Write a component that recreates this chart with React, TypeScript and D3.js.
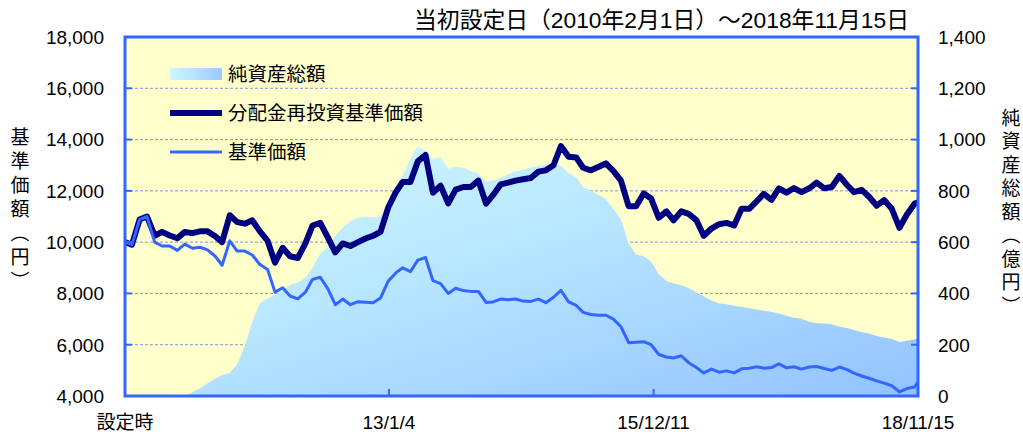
import React from 'react';
import * as d3 from 'd3';

// monthly points, Feb 2010 .. Nov 2018, plus the last date 2018-11-15
const startDate = new Date(2010, 1, 1);
const endDate = new Date(2018, 10, 15);
const dates = [...d3.timeMonth.range(startDate, new Date(2018, 11, 1)), endDate];

// 分配金再投資基準価額 (円)
const reinvested = [
  10000, 9900, 10880, 11000, 10250, 10400, 10260, 10150, 10400, 10350,
  10420, 10420, 10230, 10000, 11050, 10780, 10720, 10850, 10420, 10050,
  9200, 9780, 9450, 9380, 9950, 10650, 10750, 10200, 9600, 9950,
  9850, 10000, 10140, 10250, 10400, 11350, 11950, 12350, 12350, 13150,
  13400, 11930, 12200, 11510, 12050, 12150, 12150, 12400, 11500, 11830,
  12250, 12320, 12400, 12450, 12500, 12750, 12800, 13000, 13750, 13330,
  13300, 12900, 12800, 12930, 13070, 12780, 12400, 11400, 11400, 11900,
  11700, 10950, 11200, 10850, 11200, 11100, 10860, 10250, 10530, 10700,
  10750, 10650, 11300, 11300, 11600, 11880, 11650, 12100, 11930, 12110,
  11950, 12100, 12320, 12100, 12150, 12580, 12230, 11950, 12040, 11770,
  11420, 11640, 11300, 10560, 11080, 11500, 11550,
];

// 基準価額 (円)
const nav = [
  10000, 9900, 10880, 11000, 10000, 9850, 9850, 9680, 9920, 9760,
  9800, 9700, 9450, 9100, 10050, 9650, 9650, 9500, 9130, 8930,
  8050, 8220, 7900, 7790, 8050, 8550, 8630, 8200, 7560, 7780,
  7560, 7680, 7660, 7640, 7820, 8480, 8800, 9000, 8850, 9300,
  9400, 8500, 8380, 8000, 8200, 8110, 8080, 8080, 7650, 7670,
  7780, 7750, 7780, 7700, 7690, 7780, 7640, 7850, 8120, 7670,
  7530, 7260, 7180, 7150, 7150, 7000, 6700, 6080, 6100, 6120,
  6000, 5620, 5520, 5480, 5570, 5300, 5110, 4900, 5050, 4930,
  4980, 4900, 5060, 5080, 5140, 5080, 5110, 5250, 5100, 5140,
  5050, 5130, 5150, 5070, 5000, 5130, 5030, 4890, 4780, 4690,
  4590, 4500, 4400, 4160, 4290, 4350, 4550,
];

// 純資産総額 (億円)
const netAssets = [
  0, 0, 0, 0, 0, 0, 0, 0, 0, 15,
  30, 50, 68, 82, 90, 124, 195, 290, 362, 380,
  396, 412, 434, 443, 461, 500, 556, 580, 625, 657,
  681, 695, 699, 696, 700, 750, 820, 860, 925, 975,
  955, 925, 930, 886, 894, 890, 878, 868, 836, 840,
  850, 865, 876, 883, 890, 898, 902, 907, 898, 870,
  852, 815, 800, 785, 768, 730, 688, 595, 552, 545,
  525, 475, 448, 439, 432, 421, 404, 389, 372, 361,
  358, 352, 347, 342, 337, 332, 328, 322, 313, 305,
  301, 290, 284, 283, 280, 270, 265, 257, 249, 244,
  234, 228, 222, 211, 215, 221, 224,
];

const leftTicks = [4000, 6000, 8000, 10000, 12000, 14000, 16000, 18000];
const rightTicks = [0, 200, 400, 600, 800, 1000, 1200, 1400];
const xTickDates = [startDate, new Date(2013, 0, 4), new Date(2015, 11, 11), endDate];
const xTickLabels = ['設定時', '13/1/4', '15/12/11', '18/11/15'];

const title = '当初設定日（2010年2月1日）〜2018年11月15日';
const leftTitle = '基準価額（円）';
const rightTitle = '純資産総額（億円）';
const legendItems = ['純資産総額', '分配金再投資基準価額', '基準価額'];

const W = 1023;
const H = 435;
const M = { top: 37, right: 105, bottom: 39, left: 125 };
const FONT = '"Liberation Sans", "Noto Sans CJK JP", sans-serif';
const JFONT = '"Noto Sans CJK JP", sans-serif';

export default function App() {
  const x = d3.scaleTime().domain([startDate, endDate]).range([M.left, W - M.right]);
  const yL = d3.scaleLinear().domain([4000, 18000]).range([H - M.bottom, M.top]);
  const yR = d3.scaleLinear().domain([0, 1400]).range([H - M.bottom, M.top]);

  const area = d3.area<number>()
    .x((_, i) => x(dates[i]))
    .y0(yR(0))
    .y1((d) => yR(d));
  const line = d3.line<number>()
    .x((_, i) => x(dates[i]))
    .y((d) => yL(d));

  const x0 = M.left;
  const x1 = W - M.right;
  const y0 = M.top;
  const y1 = H - M.bottom;

  return (
    <div style={{ position: 'absolute', left: 0, top: 0 }}>
      <svg width={W} height={H} style={{ display: 'block', background: '#fff' }}>
        <defs>
          <linearGradient id="areaGrad" x1="0" y1="0" x2="1" y2="1">
            <stop offset="0%" stopColor="#d4fbff" />
            <stop offset="45%" stopColor="#b8e6ff" />
            <stop offset="100%" stopColor="#92c2ff" />
          </linearGradient>
          <linearGradient id="legGrad" x1="0" y1="0" x2="1" y2="0">
            <stop offset="0%" stopColor="#cdf8ff" />
            <stop offset="100%" stopColor="#9ccaff" />
          </linearGradient>
          <clipPath id="plotClip">
            <rect x={x0} y={y0} width={x1 - x0} height={y1 - y0} />
          </clipPath>
        </defs>

        <rect x={x0} y={y0} width={x1 - x0} height={y1 - y0} fill="#ffffcc" />

        {leftTicks.slice(1, -1).map((t) => (
          <line key={t} x1={x0} x2={x1} y1={yL(t)} y2={yL(t)}
            stroke="#7f95e8" strokeWidth={1} strokeDasharray="3,2" />
        ))}

        <g clipPath="url(#plotClip)">
          <path d={area(netAssets) ?? ''} fill="url(#areaGrad)" />
          <path d={line(reinvested) ?? ''} fill="none" stroke="#000080" strokeWidth={6}
            strokeLinejoin="round" strokeLinecap="round" />
          <path d={line(nav) ?? ''} fill="none" stroke="#3366ff" strokeWidth={3}
            strokeLinejoin="round" strokeLinecap="round" />
        </g>

        {leftTicks.slice(1, -1).map((t) => (
          <g key={t}>
            <line x1={x0} x2={x0 + 7} y1={yL(t)} y2={yL(t)} stroke="#3366ff" strokeWidth={2} />
            <line x1={x1 - 7} x2={x1} y1={yL(t)} y2={yL(t)} stroke="#3366ff" strokeWidth={2} />
          </g>
        ))}
        {xTickDates.slice(1, -1).map((d, i) => (
          <line key={i} x1={x(d)} x2={x(d)} y1={y1} y2={y1 - 7} stroke="#3366ff" strokeWidth={2} />
        ))}

        <rect x={x0} y={y0} width={x1 - x0} height={y1 - y0} fill="none"
          stroke="#3366ff" strokeWidth={3} />

        {leftTicks.map((t) => (
          <text key={t} x={x0 - 21} y={yL(t)} dy="0.36em" textAnchor="end"
            fontFamily={FONT} fontSize={19} fill="#000">
            {d3.format(',')(t)}
          </text>
        ))}
        {rightTicks.map((t) => (
          <text key={t} x={x1 + 20} y={yR(t)} dy="0.36em" textAnchor="start"
            fontFamily={FONT} fontSize={19} fill="#000">
            {d3.format(',')(t)}
          </text>
        ))}
        {xTickDates.map((d, i) => (
          <text key={i} x={x(d)} y={y1 + 26} dy="0.36em" textAnchor="middle"
            fontFamily={FONT} fontSize={19} fill="#000">
            {xTickLabels[i]}
          </text>
        ))}

        <text x={x1 - 9} y={20} dy="0.36em" textAnchor="end" fontFamily={FONT}
          fontSize={22.8} fill="#000">
          {title}
        </text>

        <text x={20} y={127} fontFamily={JFONT} fontSize={19} fill="#000"
          letterSpacing={5} style={{ writingMode: 'vertical-rl' }}>
          {leftTitle}
        </text>
        <text x={1011} y={108} fontFamily={JFONT} fontSize={19} fill="#000"
          letterSpacing={4.5} style={{ writingMode: 'vertical-rl' }}>
          {rightTitle}
        </text>

        <g>
          <rect x={170} y={68} width={52} height={12} fill="url(#legGrad)" />
          <line x1={170} x2={222} y1={113} y2={113} stroke="#000080" strokeWidth={6} />
          <line x1={170} x2={222} y1={152} y2={152} stroke="#3366ff" strokeWidth={3} />
          {legendItems.map((s, i) => (
            <text key={s} x={228} y={[74, 113, 152][i]} dy="0.36em" fontFamily={JFONT}
              fontSize={19.5} fill="#000">
              {s}
            </text>
          ))}
        </g>
      </svg>
    </div>
  );
}
